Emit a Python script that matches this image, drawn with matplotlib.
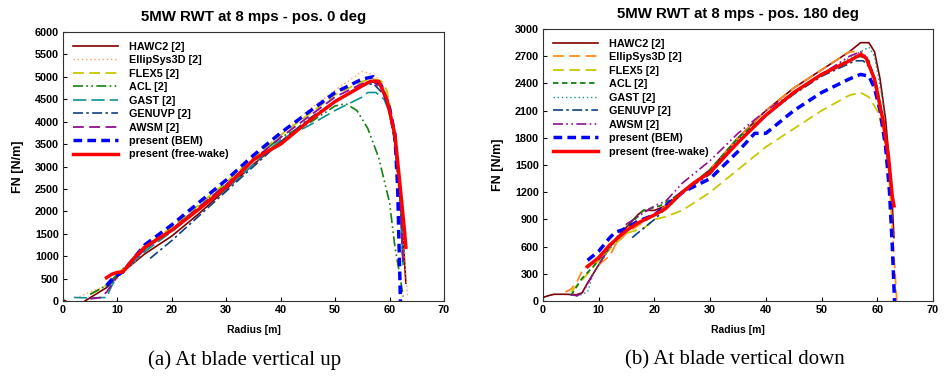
import numpy as np
import matplotlib.pyplot as plt

# ---- data: (a) blade vertical up, pos. 0 deg ----
a_hawc2_r = [0, 0.5, np.nan, 4, 6, 8, 10, 15, 20, 25, 30, 35, 40, 45, 50, 55, 57, 58.5, 60, 61, 62, 62.7, 63]
a_hawc2_f = [30, 0, np.nan, 0, 150, 300, 550, 1050, 1450, 1950, 2500, 3050, 3550, 4000, 4450, 4800, 4900, 4800, 4300, 3600, 2300, 1000, 400]
a_ellip_r = [3, 5, 8, 10, 15, 20, 25, 30, 35, 40, 45, 50, 55, 57, 58.5, 60, 61, 62, 62.8, 63.3]
a_ellip_f = [100, 200, 350, 500, 1100, 1600, 2100, 2600, 3150, 3700, 4250, 4700, 5120, 5050, 4900, 4300, 3500, 2200, 1000, 100]
a_flex5_r = [5, 8, 10, 15, 20, 25, 30, 35, 40, 45, 50, 55, 57, 58.5, 59.5, 60, 61, 62, 62.5]
a_flex5_f = [150, 350, 600, 1200, 1650, 2150, 2650, 3200, 3700, 4150, 4600, 4900, 4950, 4900, 4700, 4400, 3700, 2000, 800]
a_acl_r = [5, 8, 10, 15, 20, 25, 30, 35, 40, 45, 50, 52, 54, 56, 58, 60, 61, 62, 62.5]
a_acl_f = [150, 350, 600, 1150, 1600, 2100, 2600, 3150, 3650, 3950, 4350, 4400, 4250, 3850, 3200, 2200, 1200, 500, 100]
a_gast_r = [2, 5, 8, 9, 10, 15, 20, 25, 30, 35, 40, 45, 50, 55, 56, 57.5, 59, 60, 61, 62, 62.5]
a_gast_f = [80, 70, 80, 350, 550, 1100, 1550, 2050, 2500, 3050, 3600, 3900, 4250, 4550, 4650, 4650, 4500, 4200, 3500, 2200, 800]
a_genuvp_r = [8, 10, 13, np.nan, 16, 18, 20, 25, 30, 35, 40, 45, 50, 55, 57, 59, 60, 61, 62, 62.5]
a_genuvp_f = [300, 550, 900, np.nan, 950, 1150, 1350, 1900, 2450, 3000, 3550, 4050, 4450, 4800, 4850, 4600, 4200, 3500, 2200, 800]
a_awsm_r = [5, 7, 8, 10, 15, 20, 25, 30, 35, 40, 45, 50, 55, 57, 59, 60, 61, 62, 62.5]
a_awsm_f = [50, 80, 200, 550, 1150, 1600, 2100, 2600, 3150, 3650, 4100, 4550, 4850, 4900, 4650, 4300, 3600, 2200, 800]
a_bem_r = [8, 9.5, 11, 13, 15, 20, 25, 30, 35, 40, 45, 50, 55, 57, 58.5, 60, 61, 61.5, 61.8, 62]
a_bem_f = [350, 550, 650, 950, 1250, 1700, 2200, 2700, 3250, 3750, 4200, 4650, 4950, 5000, 4800, 4300, 3700, 2500, 1000, 0]
a_fw_r = [8, 9, 10, 11, 13, 15, 20, 25, 30, 35, 37, 40, 45, 50, 55, 56.5, 58, 59.5, 61, 62, 62.8, 63]
a_fw_f = [520, 600, 640, 650, 950, 1200, 1580, 2050, 2550, 3150, 3300, 3500, 4000, 4450, 4800, 4900, 4900, 4500, 3700, 2500, 1500, 1200]

# ---- data: (b) blade vertical down, pos. 180 deg ----
b_hawc2_r = [0, 1, 2, 4, 6, 7, 8, 10, 11, 12, 14, 17, 18, 20, 22, 25, 30, 35, 40, 45, 50, 55, 57, 58.5, 59.5, 60.5, 61.5, 62.5, 63]
b_hawc2_f = [40, 60, 75, 75, 70, 90, 200, 400, 500, 600, 750, 950, 1000, 1000, 1050, 1200, 1450, 1800, 2100, 2350, 2550, 2750, 2850, 2850, 2750, 2450, 2000, 1300, 700]
b_ellip_r = [4, 5, 6, 7, 8, 9, 10, 11, 12, 13, 15, 20, 25, 30, 35, 40, 45, 50, 55, 57, 58, 60, 61, 62, 62.5, 63, 63.5]
b_ellip_f = [100, 130, 200, 330, 400, 420, 400, 450, 500, 620, 750, 950, 1200, 1450, 1800, 2100, 2350, 2550, 2750, 2750, 2680, 2350, 2000, 1500, 1000, 500, 0]
b_flex5_r = [5, 8, 10, 15, 18, 20, 22, 25, 30, 35, 40, 45, 50, 55, 57, 58.5, 60, 61, 62, 62.5]
b_flex5_f = [100, 300, 450, 750, 800, 900, 930, 1000, 1200, 1450, 1700, 1900, 2100, 2270, 2300, 2250, 2100, 1900, 1500, 1100]
b_acl_r = [5, 7, 9, 12, 15, 18, 21, 25, 30, 35, 40, 45, 50, 55, 57, 58.5, 60, 61, 62]
b_acl_f = [60, 250, 380, 600, 800, 1000, 1050, 1200, 1450, 1800, 2050, 2300, 2500, 2650, 2700, 2650, 2350, 2000, 1500]
b_gast_r = [6, 8, 9, 12, 15, 20, 25, 30, 35, 40, 45, 50, 55, 57, 58.5, 59.5, 61, 62]
b_gast_f = [50, 100, 300, 580, 780, 950, 1180, 1430, 1780, 2050, 2300, 2500, 2680, 2750, 2800, 2700, 2200, 1600]
b_genuvp_r = [16, 18, 20, 25, 30, 35, 40, 45, 50, 55, 56, 57.5, 59, 60, 61, 62]
b_genuvp_f = [700, 800, 900, 1200, 1400, 1750, 2050, 2280, 2480, 2620, 2650, 2650, 2550, 2300, 2000, 1500]
b_awsm_r = [5, 6, 7, 9, 12, 15, 20, 22, 25, 30, 35, 40, 45, 50, 55, 57, 58, 60, 61, 62]
b_awsm_f = [70, 60, 80, 300, 600, 850, 1050, 1100, 1300, 1550, 1850, 2100, 2300, 2500, 2700, 2750, 2700, 2300, 2000, 1500]
b_bem_r = [8, 10, 12, 13, 15, 17, 20, 25, 30, 35, 38, 40, 42, 45, 50, 55, 57, 58.5, 59.5, 60.5, 61.5, 62.2, 62.7, 63.1]
b_bem_f = [450, 550, 700, 760, 800, 880, 950, 1200, 1350, 1650, 1850, 1850, 1950, 2100, 2300, 2450, 2500, 2480, 2350, 2100, 1700, 1200, 600, 0]
b_fw_r = [8, 10, 12, 15, 17, 20, 22, 25, 27, 30, 33, 35, 40, 45, 50, 55, 57, 58, 59.5, 61, 62, 62.7, 63]
b_fw_f = [380, 480, 620, 780, 860, 950, 1020, 1200, 1300, 1420, 1620, 1750, 2050, 2300, 2500, 2650, 2720, 2680, 2450, 2000, 1600, 1150, 1050]

labels = ['HAWC2 [2]', 'EllipSys3D [2]', 'FLEX5 [2]', 'ACL [2]', 'GAST [2]',
          'GENUVP [2]', 'AWSM [2]', 'present (BEM)', 'present (free-wake)']

# line styles per panel (colour, linestyle, width)
styles_a = [('#800000', '-', 1.2), ('#ffa060', (0, (1, 2)), 1.0), ('#c8c800', (0, (6, 3)), 1.3),
            ('#108010', (0, (6, 2, 1, 2, 1, 2)), 1.2), ('#109090', (0, (8, 3)), 1.2),
            ('#104080', (0, (6, 2, 1.5, 2)), 1.2), ('#901090', (0, (6, 3)), 1.3),
            ('#0000ff', (0, (2.5, 1.5)), 2.5), ('#ff0000', '-', 2.5)]
styles_b = [('#800000', '-', 1.2), ('#ff8c20', (0, (6, 3)), 1.3), ('#c8c800', (0, (6, 3)), 1.3),
            ('#108010', (0, (3, 2)), 1.3), ('#109090', (0, (1, 2)), 1.0),
            ('#104080', (0, (6, 2, 1.5, 2)), 1.2), ('#901090', (0, (6, 2, 1, 2, 1, 2)), 1.2),
            ('#0000ff', (0, (2.5, 1.5)), 2.5), ('#ff0000', '-', 2.5)]

data_a = [(a_hawc2_r, a_hawc2_f), (a_ellip_r, a_ellip_f), (a_flex5_r, a_flex5_f), (a_acl_r, a_acl_f),
          (a_gast_r, a_gast_f), (a_genuvp_r, a_genuvp_f), (a_awsm_r, a_awsm_f), (a_bem_r, a_bem_f),
          (a_fw_r, a_fw_f)]
data_b = [(b_hawc2_r, b_hawc2_f), (b_ellip_r, b_ellip_f), (b_flex5_r, b_flex5_f), (b_acl_r, b_acl_f),
          (b_gast_r, b_gast_f), (b_genuvp_r, b_genuvp_f), (b_awsm_r, b_awsm_f), (b_bem_r, b_bem_f),
          (b_fw_r, b_fw_f)]

plt.rcParams['font.family'] = ['Liberation Sans', 'DejaVu Sans']

fig = plt.figure(figsize=(9.47, 3.85), dpi=100)
ax1 = fig.add_axes([0.0665, 0.218, 0.4023, 0.699])
ax2 = fig.add_axes([0.5734, 0.218, 0.4118, 0.7065])


def draw(ax, data, styles, title, ymax, ystep):
    for (r, f), (c, ls, lw), lab in zip(data, styles, labels):
        ax.plot(r, f, color=c, linestyle=ls, linewidth=lw, label=lab)
    ax.set_xlim(0, 70)
    ax.set_ylim(0, ymax)
    ax.set_xticks(np.arange(0, 71, 10))
    ax.set_yticks(np.arange(0, ymax + 1, ystep))
    ax.tick_params(direction='in', length=3, labelsize=7.8, pad=3)
    for t in ax.get_xticklabels() + ax.get_yticklabels():
        t.set_fontweight('bold')
    for s in ax.spines.values():
        s.set_color('#333333')
    ax.set_title(title, fontsize=10.8, fontweight='bold', pad=8)
    ax.set_xlabel('Radius [m]', fontsize=7.5, fontweight='bold', labelpad=7)
    ax.set_ylabel('FN [N/m]', fontsize=9, fontweight='bold', labelpad=8)
    ax.legend(loc='upper left', frameon=False, handlelength=4.2,
              labelspacing=0.32, borderaxespad=0.6, borderpad=0.3, handletextpad=1.0,
              prop={'weight': 'bold', 'size': 7.8})


draw(ax1, data_a, styles_a, '5MW RWT at 8 mps - pos. 0 deg', 6000, 500)
draw(ax2, data_b, styles_b, '5MW RWT at 8 mps - pos. 180 deg', 3000, 300)

fig.text(0.258, 0.065, '(a) At blade vertical up', ha='center', va='center',
         fontsize=15, family='Liberation Serif')
fig.text(0.776, 0.065, '(b) At blade vertical down', ha='center', va='center',
         fontsize=15, family='Liberation Serif')

fig.savefig('out.png', dpi=100)
